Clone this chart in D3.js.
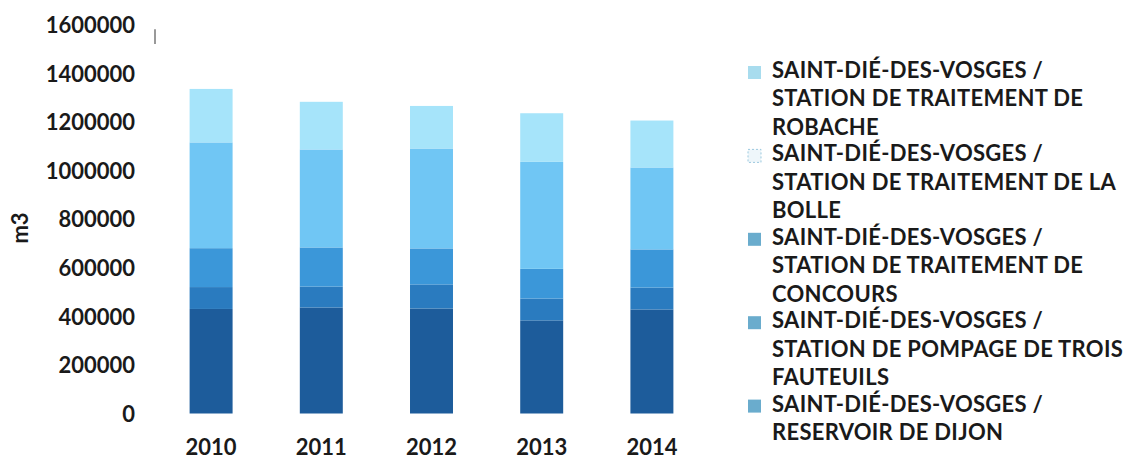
<!DOCTYPE html>
<html>
<head>
<meta charset="utf-8">
<script src="https://cdn.jsdelivr.net/npm/d3@7/dist/d3.min.js"></script>
<style>
  html, body { margin: 0; padding: 0; background: #fff; }
  text { font-family: Lato, "Open Sans", sans-serif; font-weight: 700; fill: #1a1a1a; }
</style>
</head>
<body>
<svg id="chart" width="1127" height="464"></svg>
<script>
// ---- data ----
const years = ["2010", "2011", "2012", "2013", "2014"];
// series from bottom of stack to top
const seriesNames = [
  "SAINT-DIÉ-DES-VOSGES / RESERVOIR DE DIJON",
  "SAINT-DIÉ-DES-VOSGES / STATION DE POMPAGE DE TROIS FAUTEUILS",
  "SAINT-DIÉ-DES-VOSGES / STATION DE TRAITEMENT DE CONCOURS",
  "SAINT-DIÉ-DES-VOSGES / STATION DE TRAITEMENT DE LA BOLLE",
  "SAINT-DIÉ-DES-VOSGES / STATION DE TRAITEMENT DE ROBACHE"
];
const dijon    = [430000, 436000, 432000, 383000, 428000];
const trois    = [ 90000,  86000,  99000,  90000,  90000];
const concours = [160000, 161000, 148000, 122000, 157000];
const bolle    = [435000, 403000, 411000, 440000, 337000];
const robache  = [220000, 196000, 175000, 200000, 193000];
const yTicks = [0, 200000, 400000, 600000, 800000, 1000000, 1200000, 1400000, 1600000];
const yLabel = "m3";
// legend (top to bottom), each split into lines
const legendLines = [
  ["SAINT-DIÉ-DES-VOSGES /", "STATION DE TRAITEMENT DE", "ROBACHE"],
  ["SAINT-DIÉ-DES-VOSGES /", "STATION DE TRAITEMENT DE LA", "BOLLE"],
  ["SAINT-DIÉ-DES-VOSGES /", "STATION DE TRAITEMENT DE", "CONCOURS"],
  ["SAINT-DIÉ-DES-VOSGES /", "STATION DE POMPAGE DE TROIS", "FAUTEUILS"],
  ["SAINT-DIÉ-DES-VOSGES /", "RESERVOIR DE DIJON"]
];

// ---- styles ----
const barColors = ["#1d5c9b", "#2a7bbf", "#3b97d9", "#70c6f4", "#a6e4fa"];
const swatchColors = ["#a8dcee", "#eef6fa", "#6aaccd", "#6aaccd", "#6aaccd"];
const fontSize = "22px";

const svg = d3.select("#chart");
const seriesValues = [dijon, trois, concours, bolle, robache];
const table = years.map((y, i) => {
  const row = { year: y };
  seriesNames.forEach((s, k) => row[s] = seriesValues[k][i]);
  return row;
});
const stacked = d3.stack().keys(seriesNames)(table);

const x = d3.scaleBand().domain(years).range([156, 707]).paddingInner(0.61).paddingOuter(0.305);
const y = d3.scaleLinear().domain([0, 1600000]).range([413.5, 24.5]);

// bars
svg.append("g").selectAll("g").data(stacked).join("g")
  .attr("fill", (d, i) => barColors[i])
  .selectAll("rect").data(d => d).join("rect")
  .attr("x", d => x(d.data.year))
  .attr("width", x.bandwidth())
  .attr("y", d => y(d[1]))
  .attr("height", d => y(d[0]) - y(d[1]));

// y axis
const yAxis = d3.axisLeft(y).tickValues(yTicks).tickFormat(d3.format("d")).tickSize(0).tickPadding(0);
const gy = svg.append("g").attr("transform", "translate(135,0)").call(yAxis);
gy.select(".domain").remove();
gy.selectAll("text").style("font-size", fontSize).style("font-family", "Lato, sans-serif").style("font-weight", "700").attr("fill", "#1a1a1a").attr("dy", "0.36em");

// faint axis mark at top (as in scan)
svg.append("line").attr("x1", 155).attr("x2", 155).attr("y1", y(1580000)).attr("y2", y(1520000))
  .attr("stroke", "#777").attr("stroke-width", 1.5);

// x axis
const xAxis = d3.axisBottom(x).tickSize(0).tickPadding(0);
const gx = svg.append("g").attr("transform", "translate(0,447)").call(xAxis);
gx.select(".domain").remove();
gx.selectAll("text").style("font-size", fontSize).style("font-family", "Lato, sans-serif").style("font-weight", "700").attr("fill", "#1a1a1a").attr("dy", "0.36em");

// y label
svg.append("text").attr("transform", "translate(20,228) rotate(-90)")
  .attr("text-anchor", "middle").attr("dy", "0.36em")
  .style("font-size", fontSize).text(yLabel);

// legend
const lg = svg.append("g");
legendLines.forEach((lines, i) => {
  const cy = 70 + i * 83.4;
  lg.append("rect").attr("x", 748).attr("y", cy - 4).attr("width", 13).attr("height", 13)
    .attr("fill", swatchColors[i])
    .attr("stroke", i === 1 ? "#9cc9df" : "none").attr("stroke-dasharray", i === 1 ? "2,2" : null);
  lines.forEach((t, j) => {
    lg.append("text").attr("x", 772).attr("y", cy + j * 28.5).attr("dy", "0.36em")
      .style("font-size", fontSize).style("letter-spacing", "0.3px").text(t);
  });
});
</script>
</body>
</html>
